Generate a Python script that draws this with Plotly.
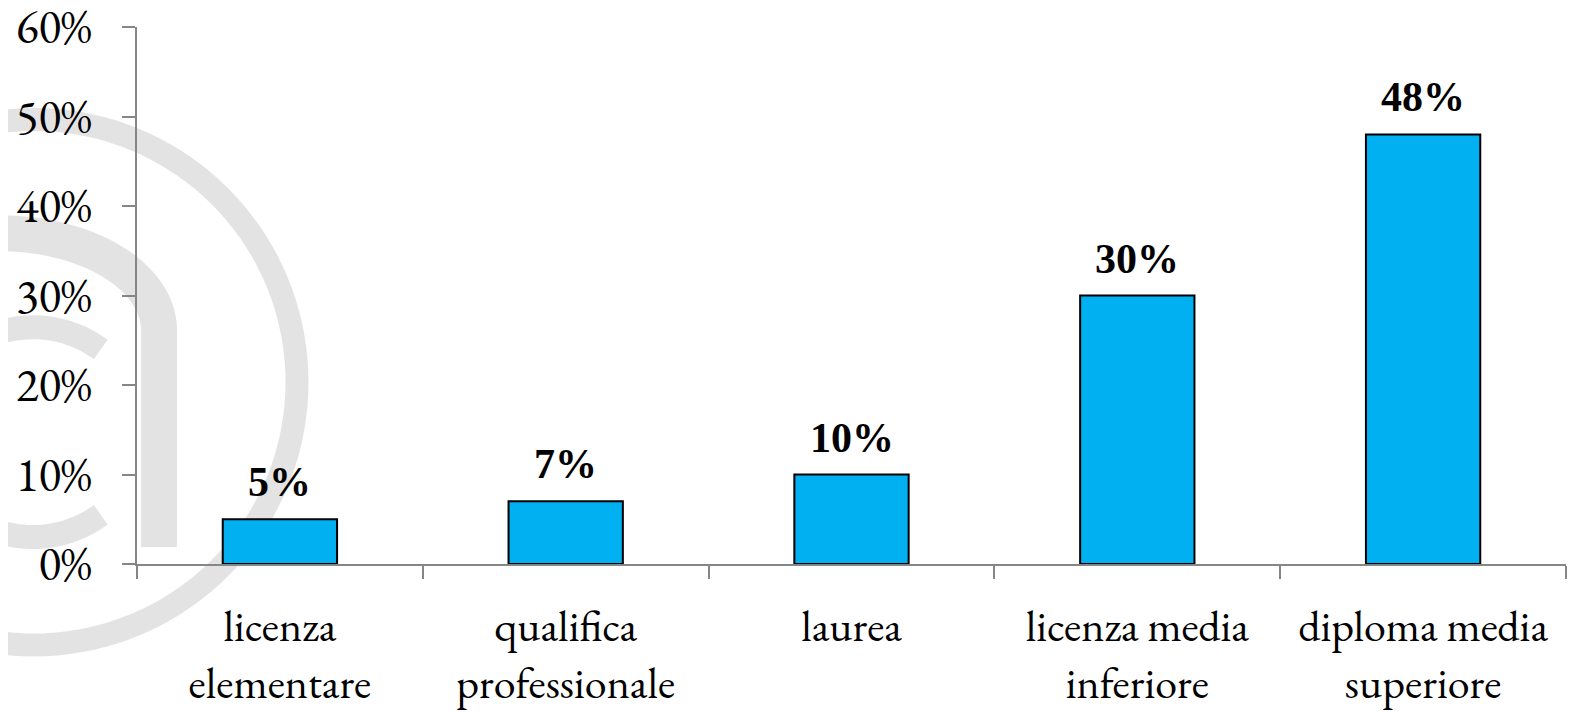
import math
import plotly.graph_objects as go

# ---- data ----
categories = ["licenza<br>elementare", "qualifica<br>professionale", "laurea",
              "licenza media<br>inferiore", "diploma media<br>superiore"]
values = [5, 7, 10, 30, 48]
y_ticks = [0, 10, 20, 30, 40, 50, 60]
y_tick_labels = ["0%", "10%", "20%", "30%", "40%", "50%", "60%"]

# ---- layout geometry ----
# The page body has an 8px margin, so the figure starts at (8, 8) on screen.
OFF = 8
W, H = 1583 - OFF, 712 - OFF
# plot area in screen pixels: left 137, right 1566, top 26.5, bottom 564
L = 137 - OFF
R = W - (1566 - OFF)
T = 26.5 - OFF
B = H - (564 - OFF)
PW, PH = W - L - R, H - T - B
TICK_FONT = "EB Garamond, Liberation Serif, serif"
LABEL_FONT = "Liberation Serif, Times New Roman, serif"
AXIS_COLOR = "#868686"
WM = "rgba(0,0,0,0.11)"


def px(x):
    return (x - OFF - L) / PW


def py(y):
    return (H - B - (y - OFF)) / PH


def poly(points):
    return "M " + " L ".join(f"{px(x):.5f},{py(y):.5f}" for x, y in points)


def arc(cx, cy, rx, ry, a0, a1, n=60):
    pts = []
    for i in range(n + 1):
        a = math.radians(a0 + (a1 - a0) * i / n)
        pts.append((cx + rx * math.cos(a), cy - ry * math.sin(a)))
    return pts


fig = go.Figure()
fig.add_trace(go.Bar(
    x=categories, y=values,
    marker=dict(color="#00B0F0", line=dict(color="#000000", width=2)),
    width=0.4,
))

for c, v in zip(categories, values):
    fig.add_annotation(x=c, y=v, text=f"<b>{v}%</b>", showarrow=False,
                       yanchor="bottom", yshift=12,
                       font=dict(family=LABEL_FONT, size=42, color="#000000"))

# watermark "@" decoration (screen pixel coordinates)
shapes = []
# outer ring
shapes.append(dict(type="path", path=poly(arc(34, 382, 263, 263, 200, -200, 160)),
                   line=dict(color=WM, width=23), layer="below",
                   xref="paper", yref="paper"))
# arch + stem of the inner "a"
arch = arc(0, 330, 159, 97, 110, 0, 60) + [(159, 547)]
shapes.append(dict(type="path", path=poly(arch),
                   line=dict(color=WM, width=36), layer="below",
                   xref="paper", yref="paper"))
# bowl of the inner "a"
shapes.append(dict(type="path", path=poly(arc(33, 432, 110, 105, 52, 308, 80)),
                   line=dict(color=WM, width=24), layer="below",
                   xref="paper", yref="paper"))

fig.update_layout(
    width=W, height=H,
    margin=dict(l=L, r=R, t=T, b=B, pad=0, autoexpand=False),
    paper_bgcolor="white", plot_bgcolor="rgba(0,0,0,0)",
    showlegend=False,
    shapes=shapes,
    bargap=0.6,
    font=dict(family=TICK_FONT, color="#000000"),
    xaxis=dict(
        automargin=False,
        showline=True, linecolor=AXIS_COLOR, linewidth=2,
        ticks="outside", ticklen=13, tickcolor=AXIS_COLOR, tickwidth=2,
        tickson="boundaries", showgrid=False,
        tickfont=dict(family=TICK_FONT, size=44, color="#000000"),
        ticklabelstandoff=22, ticklabeloverflow="allow",
    ),
    yaxis=dict(
        automargin=False,
        range=[0, 60], tickvals=y_ticks, ticktext=y_tick_labels,
        showline=True, linecolor=AXIS_COLOR, linewidth=2,
        ticks="outside", ticklen=13, tickcolor=AXIS_COLOR, tickwidth=2,
        showgrid=False, zeroline=False,
        tickfont=dict(family=TICK_FONT, size=47, color="#000000"),
        ticklabelstandoff=21, ticklabeloverflow="allow",
    ),
)

fig.write_html("out.html")
